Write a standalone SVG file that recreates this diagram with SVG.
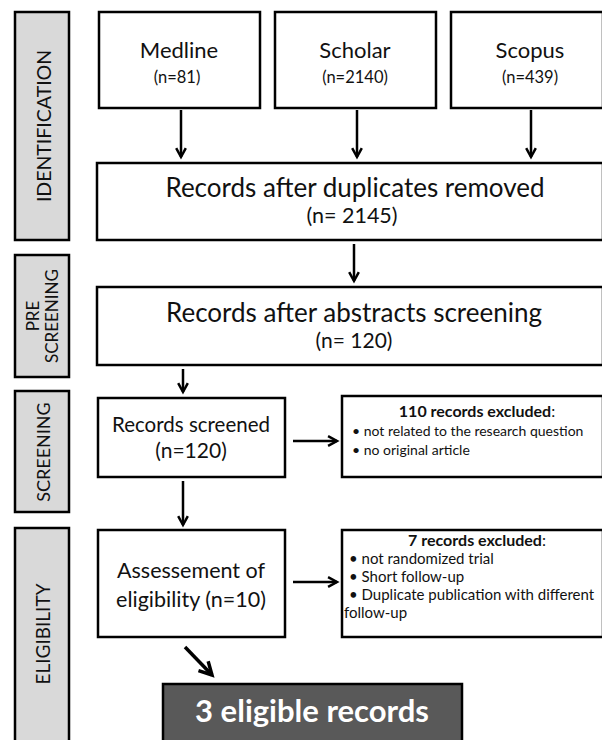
<svg xmlns="http://www.w3.org/2000/svg" width="602" height="740" viewBox="0 0 602 740">
<defs>
<marker id="ah" viewBox="0 0 10 10" refX="8" refY="5" markerWidth="5.5" markerHeight="5.5" orient="auto" markerUnits="strokeWidth">
<path d="M1.5,1.5 L8,5 L1.5,8.5" fill="none" stroke="#000" stroke-width="1.8"/>
</marker>
</defs>
<style>
.box{fill:#fff;stroke:#000;stroke-width:2.5}
.side{fill:#d9d9d9;stroke:#000;stroke-width:2.5}
.t{font-family:Lato,"Open Sans",sans-serif;fill:#111;text-anchor:middle}
.s{font-family:Lato,"Open Sans",sans-serif;fill:#111}
.c{stroke:#000;stroke-width:2.5;fill:none;marker-end:url(#ah)}
</style>
<rect width="602" height="740" fill="#fff"/>
<g id="side-identification"><rect class="side" x="15" y="12" width="54" height="228"/><text class="t" font-size="19.5" transform="translate(51,126) rotate(-90)">IDENTIFICATION</text></g>
<g id="side-prescreening"><rect class="side" x="15" y="255" width="54" height="122"/><text class="t" font-size="17" transform="translate(39,316) rotate(-90)">PRE</text><text class="t" font-size="17" transform="translate(58,316) rotate(-90)">SCREENING</text></g>
<g id="side-screening"><rect class="side" x="15" y="391" width="54" height="121"/><text class="t" font-size="18" transform="translate(50,452) rotate(-90)">SCREENING</text></g>
<g id="side-eligibility"><rect class="side" x="15" y="528" width="54" height="216"/><text class="t" font-size="19" transform="translate(50,634) rotate(-90)">ELIGIBILITY</text></g>

<g id="medline"><rect class="box" x="99" y="12" width="161" height="96"/><text class="t" font-size="22" x="179" y="58">Medline</text><text class="t" font-size="16.5" x="177" y="83">(n=81)</text></g>
<g id="scholar"><rect class="box" x="275" y="12" width="161" height="96"/><text class="t" font-size="22" x="355" y="58">Scholar</text><text class="t" font-size="16.5" x="355" y="83">(n=2140)</text></g>
<g id="scopus"><rect class="box" x="451" y="12" width="152" height="96"/><text class="t" font-size="22" x="530" y="58">Scopus</text><text class="t" font-size="16.5" x="530" y="83">(n=439)</text></g>
<g id="duplicates"><rect class="box" x="97" y="163" width="506" height="77"/><text class="t" font-size="26" x="355" y="197">Records after duplicates removed</text><text class="t" font-size="21.5" x="352" y="223">(n= 2145)</text></g>
<g id="abstracts"><rect class="box" x="97" y="287" width="506" height="78"/><text class="t" font-size="26" x="354" y="322">Records after abstracts screening</text><text class="t" font-size="21" x="354" y="348">(n= 120)</text></g>
<g id="screened"><rect class="box" x="98" y="398" width="187" height="79"/><text class="t" font-size="20.5" x="191" y="432">Records screened</text><text class="t" font-size="21" x="191" y="458">(n=120)</text></g>
<g id="excluded110"><rect class="box" x="342" y="396" width="261" height="81"/><text class="t" font-size="16" font-weight="bold" x="477" y="417">110 records excluded<tspan font-weight="normal">:</tspan></text><text class="s" font-size="14" x="352" y="436">• not related to the research question</text><text class="s" font-size="14" x="352" y="455">• no original article</text></g>
<g id="assessment"><rect class="box" x="98" y="530" width="187" height="107"/><text class="t" font-size="21.5" x="191" y="578">Assessement of</text><text class="t" font-size="21.5" x="191" y="607">eligibility (n=10)</text></g>
<g id="excluded7"><rect class="box" x="342" y="530" width="261" height="107"/><text class="t" font-size="16" font-weight="bold" x="477" y="546">7 records excluded<tspan font-weight="normal">:</tspan></text><text class="s" font-size="15" x="349" y="564">• not randomized trial</text><text class="s" font-size="15" x="349" y="582">• Short follow-up</text><text class="s" font-size="15" x="349" y="600">• Duplicate publication with different</text><text class="s" font-size="15" x="344" y="618">follow-up</text></g>
<g id="eligible"><rect x="163" y="684" width="299" height="60" fill="#595959" stroke="#000" stroke-width="2.5"/><text class="t" font-size="31" font-weight="bold" x="312" y="722" style="fill:#fff">3 eligible records</text></g>

<g id="connectors">
<line class="c" x1="181" y1="110" x2="181" y2="157"/>
<line class="c" x1="357" y1="110" x2="357" y2="157"/>
<line class="c" x1="531" y1="110" x2="531" y2="157"/>
<line class="c" x1="354" y1="244" x2="354" y2="281"/>
<line class="c" x1="183" y1="369" x2="183" y2="392"/>
<line class="c" x1="293" y1="441" x2="337" y2="441"/>
<line class="c" x1="183" y1="481" x2="183" y2="525"/>
<line class="c" x1="293" y1="582" x2="337" y2="582"/>
<line class="c" style="stroke-width:3.5" x1="185" y1="647" x2="212" y2="675"/>
</g>
</svg>
